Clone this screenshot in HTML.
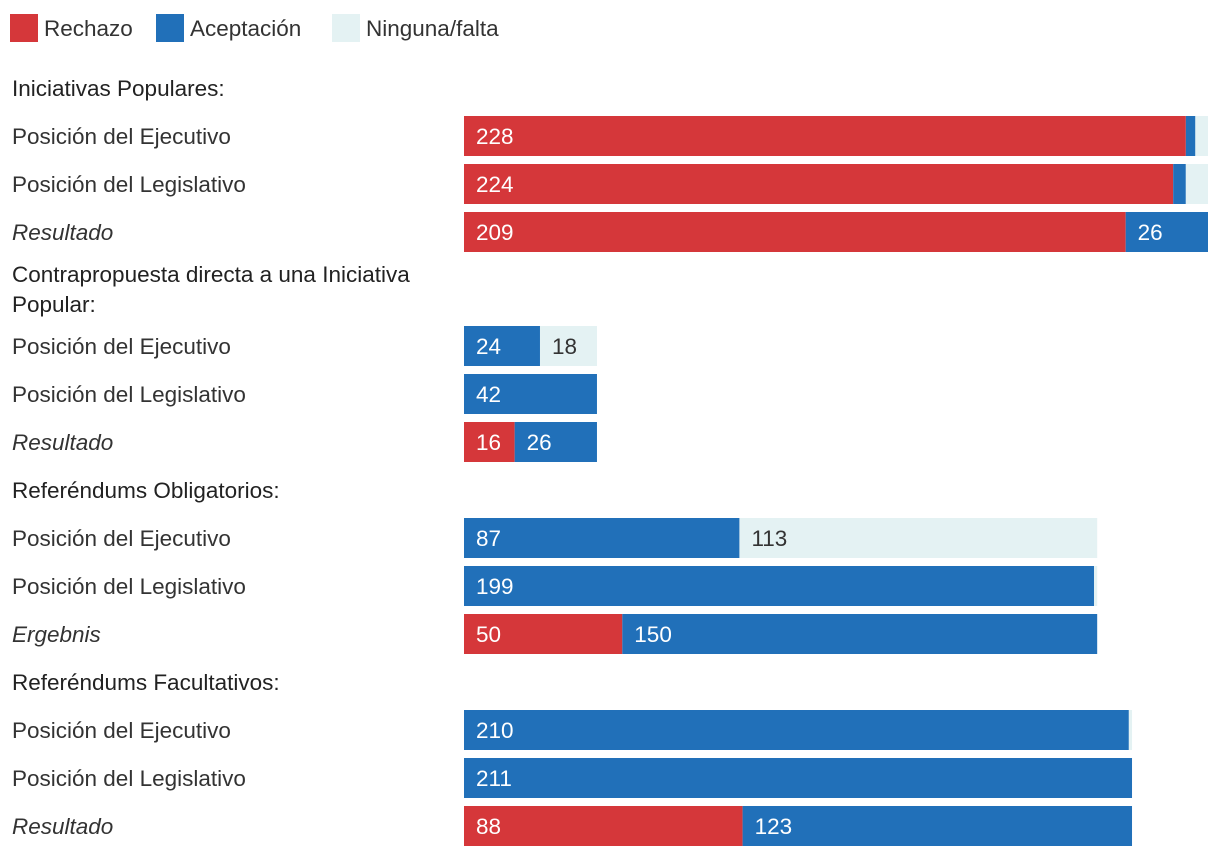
<!DOCTYPE html>
<html><head><meta charset="utf-8"><style>
body{margin:0;background:#fff;font-family:"Liberation Sans",sans-serif;color:#222;}
svg text{font-family:"Liberation Sans",sans-serif;}
</style></head><body>
<svg id="c" width="1220" height="858"></svg>
<script>
const categories=["Rechazo","Aceptación","Ninguna/falta"];
const colors=["#d5373a","#2170b9","#e4f2f3"];
const groups=["Iniciativas Populares:","Contrapropuesta directa a una Iniciativa|Popular:","Referéndums Obligatorios:","Referéndums Facultativos:"];
const rowLabels=[["Posición del Ejecutivo","Posición del Legislativo","Resultado"],["Posición del Ejecutivo","Posición del Legislativo","Resultado"],["Posición del Ejecutivo","Posición del Legislativo","Ergebnis"],["Posición del Ejecutivo","Posición del Legislativo","Resultado"]];
const rechazo=[[228,224,209],[0,0,16],[0,0,50],[0,0,88]];
const aceptacion=[[3,4,26],[24,42,26],[87,199,150],[210,211,123]];
const ninguna=[[4,7,0],[18,0,0],[113,1,0],[1,0,0]];
const showLabel=[[[1,0,0],[1,0,0],[1,1,0]],[[0,1,1],[0,1,0],[1,1,0]],[[0,1,1],[0,1,0],[1,1,0]],[[0,1,0],[0,1,0],[1,1,0]]];
const svg=document.getElementById('c');const NS='http://www.w3.org/2000/svg';
function el(t,a,txt){const e=document.createElementNS(NS,t);for(const k in a)e.setAttribute(k,a[k]);if(txt!==undefined)e.textContent=txt;svg.appendChild(e);return e;}
const x0=464, k=744/235, FS=22.5;
function xs(v){return v*k;}
const lx=[10,156,332];
categories.forEach((c,i)=>{
 const r=el('rect',{x:lx[i],y:14,width:28,height:28,fill:colors[i]});
 
 
 const t=el('text',{x:lx[i]+34,y:36,'font-size':FS,fill:'#333'},c);
 
 
});
let end=60; // bottom of previous block
groups.forEach((g,gi)=>{
 const lines=g.split('|');
 const gap=lines.length>1?22:28;
 let cy=end+gap;
 lines.forEach((ln,li)=>{const t=el('text',{x:12,y:cy+li*30+8,'font-size':FS,fill:'#222'},ln);
  
  });
 let y=cy+(lines.length-1)*30+gap;
 for(let r=0;r<3;r++){
  const by=y;
  const lt=el('text',{x:12,y:by+28,'font-size':FS,fill:'#333','font-style':r==2?'italic':'normal'},rowLabels[gi][r]);
  
  
  const vals=[rechazo[gi][r],aceptacion[gi][r],ninguna[gi][r]];
  let cx=x0;
  vals.forEach((v,si)=>{
   if(v<=0)return;const w=xs(v);
   const b=el('rect',{x:cx,y:by,width:w,height:40,fill:colors[si]});
   
   
   if(showLabel[gi][r][si]){const t=el('text',{x:cx+12,y:by+28,'font-size':FS,fill:si==2?'#333':'#fff'},v);
    
    }
   cx+=w;
  });
  y+=48;
 }
 end=y-8;
});
</script>
</body></html>
